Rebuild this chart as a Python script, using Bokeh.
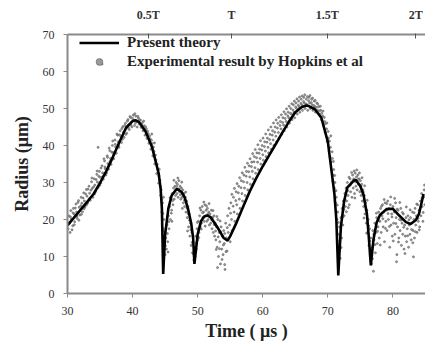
from bokeh.plotting import figure
from bokeh.models import LinearAxis, FixedTicker, Range1d, Legend, LegendItem
from bokeh.embed import file_html
from bokeh.resources import INLINE

# Present theory curve (time in microseconds, radius in micrometres)
theory_t = [30.0, 31.0, 32.0, 33.0, 34.0, 35.0, 36.0, 37.0, 38.0, 39.0, 40.0, 40.5, 41.0, 42.0, 43.0,
            44.0, 44.3, 44.5, 44.7, 45.0, 45.5, 46.0, 46.8, 47.5, 48.0, 48.5, 49.0, 49.3, 49.5, 50.0,
            50.5, 51.0, 51.5, 52.0, 53.0, 54.0, 54.6, 55.0, 56.0, 57.0, 58.0, 59.0, 60.0, 61.0, 62.0,
            63.0, 64.0, 65.0, 66.0, 66.7, 67.0, 68.0, 69.0, 70.0, 70.5, 71.0, 71.3, 71.6, 72.0, 72.5,
            73.0, 74.0, 74.3, 75.0, 75.5, 76.0, 76.3, 76.6, 77.0, 77.5, 78.0, 79.0, 80.0, 81.0, 82.0,
            82.7, 83.5, 84.0, 84.7]
theory_r = [18.4, 20.5, 22.6, 24.7, 26.9, 29.9, 33.2, 37.0, 41.0, 44.8, 46.6, 46.8, 46.3, 43.8, 39.5,
            32.5, 28.5, 23.0, 5.3, 16.0, 23.0, 26.5, 28.3, 27.5, 26.0, 23.0, 19.0, 15.0, 8.0, 16.0,
            19.5, 20.8, 21.1, 20.6, 18.0, 15.0, 14.3, 15.5, 19.3, 23.5, 27.6, 31.2, 34.4, 37.4, 40.4,
            43.5, 46.4, 49.0, 50.4, 50.8, 50.7, 49.8, 47.5, 41.0, 34.0, 27.0, 20.0, 4.9, 18.0, 25.0,
            28.7, 30.5, 30.7, 29.0, 26.5, 21.5, 15.0, 7.6, 14.5, 19.2, 21.2, 22.8, 22.9, 21.0, 19.3,
            18.8, 19.8, 21.5, 26.9]

exp_t_a = [30.1, 30.2, 30.3, 30.4, 30.5, 30.6, 30.8, 30.9, 31.0, 31.1, 31.3, 31.4, 31.5, 31.7, 31.8, 31.9,
           32.1, 32.2, 32.3, 32.5, 32.6, 32.7, 32.9, 33.0, 33.1, 33.3, 33.4, 33.5, 33.7, 33.8, 33.9, 34.1,
           34.2, 34.3, 34.5, 34.6, 34.7, 34.7, 34.9, 35.0, 35.1, 35.3, 35.3, 35.4, 35.5, 35.7, 35.8, 35.9,
           36.1, 36.2, 36.3, 36.5, 36.6, 36.7, 36.9, 37.0, 37.1, 37.3, 37.4, 37.5, 37.7, 37.8, 37.9, 38.1,
           38.2, 38.3, 38.5, 38.6, 38.7, 38.9, 39.0, 39.1, 39.3, 39.4, 39.5, 39.7, 39.8, 39.9, 40.1, 40.2,
           40.3, 40.5, 40.6, 40.7,
           40.9, 41.0, 41.2, 41.3, 41.5, 41.6, 41.8, 41.9, 42.1, 42.2, 42.4, 42.5, 42.7, 42.8, 43.0, 43.1,
           43.3, 43.4, 43.6, 43.7, 43.9, 44.0, 44.2, 44.3, 44.4, 44.5, 44.6, 44.7, 44.8, 44.9, 45.0, 45.1,
           45.2,
           45.3, 45.4, 45.5, 45.6, 45.7, 45.8, 45.9, 46.0, 46.1, 46.2, 46.3, 46.4, 46.5, 46.6, 46.7, 46.8,
           46.9, 47.0, 47.1, 47.2, 47.3, 47.4, 47.5, 47.6, 47.7, 47.8, 47.9, 48.0, 48.1, 48.2, 48.3, 48.4,
           48.5, 48.6, 48.7, 48.8, 48.9, 49.0, 49.1, 49.2, 49.3, 49.4, 49.5, 49.6,
           49.7, 49.8, 49.9, 50.0, 50.1, 50.2, 50.3, 50.4, 50.5, 50.6, 50.7, 50.8, 50.9, 51.0, 51.1, 51.2,
           51.3, 51.4, 51.5, 51.6, 51.7, 51.8, 51.9, 52.0, 52.1, 52.2, 52.3, 52.4, 52.5, 52.6, 52.7, 52.8,
           52.9, 53.0, 53.1, 53.2, 53.3, 53.4, 53.5, 53.6, 53.7, 53.8, 53.9, 54.0, 54.1, 54.2, 54.3, 54.4,
           54.5, 54.6, 54.7,
           54.8, 54.9, 55.0, 55.1, 55.2, 55.3, 55.5, 55.6, 55.7, 55.9, 56.0, 56.1, 56.3, 56.4, 56.5, 56.7,
           56.8, 56.9, 57.1, 57.2, 57.3, 57.5, 57.6, 57.7, 57.9, 58.0, 58.1, 58.3, 58.4, 58.5, 58.7, 58.8,
           58.9, 59.1, 59.2, 59.3, 59.5, 59.6, 59.7, 59.9, 60.0, 60.1, 60.3, 60.4, 60.5, 60.7, 60.8, 60.9,
           61.1, 61.2, 61.3, 61.5, 61.6, 61.7, 61.9, 62.0, 62.1, 62.3, 62.4, 62.5, 62.7, 62.8, 62.9, 63.1,
           63.2, 63.3, 63.5, 63.6, 63.7, 63.9, 64.0, 64.1, 64.3, 64.4, 64.5, 64.7, 64.8, 64.9, 65.1, 65.2,
           65.3,
           65.5, 65.6, 65.7, 65.9, 66.0, 66.1, 66.3, 66.4, 66.5, 66.7, 66.8, 66.9, 67.1, 67.2, 67.3, 67.5,
           67.6, 67.7, 67.9, 68.0, 68.1, 68.3, 68.4,
           68.6, 68.7, 68.9, 69.0, 69.2, 69.3, 69.5, 69.6, 69.8, 69.9, 70.1, 70.2, 70.4, 70.5, 70.7, 70.8,
           70.9, 71.0, 71.1, 71.2, 71.3, 71.4, 71.5, 71.6, 71.7, 71.8, 71.9,
           72.0, 72.1, 72.2, 72.3, 72.4, 72.5, 72.6, 72.7, 72.8, 72.9, 73.0, 73.1, 73.2, 73.3, 73.4, 73.5,
           73.6, 73.7, 73.8, 73.9, 74.0, 74.1, 74.2, 74.3, 74.4, 74.5, 74.6, 74.7, 74.8, 74.9, 75.0, 75.1,
           75.2, 75.3, 75.4, 75.5, 75.6, 75.7, 75.8, 75.9, 76.0, 76.1, 76.2, 76.3, 76.4, 76.5, 76.6, 76.7,
           76.8, 76.9, 77.0, 77.1, 77.2, 77.3, 77.4, 77.5, 77.6, 77.7, 77.8, 77.9, 78.0, 78.1, 78.2, 78.3,
           78.4, 78.5, 78.6, 78.7, 78.8, 78.9, 79.0, 79.1, 79.2, 79.3, 79.4, 79.5, 79.6, 79.7, 79.8, 79.9,
           80.0, 80.1, 80.2, 80.3, 80.4, 80.5, 80.6, 80.7, 80.8, 80.9, 81.0, 81.1, 81.2, 81.3, 81.4, 81.5,
           81.6, 81.7, 81.8, 81.9, 82.0, 82.1, 82.2, 82.3, 82.4, 82.5, 82.6, 82.7, 82.8, 82.9, 83.0, 83.1,
           83.2, 83.3, 83.4, 83.5, 83.6, 83.7, 83.8, 83.9, 84.0, 84.1, 84.2, 84.3, 84.4, 84.5, 84.6, 84.7,
           84.8, 84.9]
exp_r_a = [17.5, 21.0, 19.2, 16.5, 22.4, 20.1, 18.3, 23.0, 21.5, 19.4, 24.2, 22.0, 20.3, 25.1, 23.3, 21.2,
           26.0, 24.4, 22.1, 27.2, 25.0, 23.4, 28.1, 26.3, 24.5, 29.0, 27.1, 25.2, 30.2, 28.4, 26.0, 31.0,
           29.3, 27.5, 32.2, 30.1, 28.6, 39.5, 33.0, 31.4, 29.8, 62.0, 34.5, 32.6, 30.9, 35.8, 33.7, 32.0,
           37.2, 35.1, 33.6, 38.6, 36.5, 34.9, 40.0, 38.1, 36.4, 41.5, 39.6, 37.9, 42.8, 41.0, 39.5, 44.0,
           42.4, 40.8, 45.1, 43.6, 42.2, 46.0, 44.7, 43.3, 47.0, 45.6, 44.3, 47.6, 46.3, 45.0, 48.2, 46.8,
           45.4, 47.9, 46.5, 45.0,
           47.4, 45.8, 46.9, 44.9, 46.2, 44.0, 45.3, 42.8, 44.5, 41.9, 43.2, 40.6, 41.8, 39.0, 40.5, 37.2,
           38.4, 35.0, 36.1, 32.4, 33.5, 29.8, 30.6, 26.5, 28.0, 22.0, 24.5, 17.5, 20.0, 13.5, 10.5, 15.0,
           12.0,
           18.5, 14.0, 21.0, 17.5, 23.5, 20.0, 25.5, 22.5, 27.0, 24.0, 28.5, 25.5, 29.0, 26.5, 30.0, 27.0,
           29.5, 26.0, 30.5, 27.5, 29.0, 25.5, 28.5, 26.0, 28.0, 24.5, 27.0, 23.5, 26.0, 22.0, 25.0, 20.5,
           23.5, 18.0, 21.5, 15.5, 19.0, 13.0, 16.5, 11.0, 14.0, 9.0, 12.5, 10.0,
           15.5, 12.0, 17.5, 14.5, 19.5, 16.5, 21.0, 18.0, 22.5, 19.0, 23.5, 20.5, 22.0, 19.5, 24.0, 21.0,
           22.5, 19.5, 23.0, 20.0, 22.0, 18.5, 21.5, 19.0, 22.5, 17.5, 20.5, 16.5, 21.0, 15.5, 19.0, 14.5,
           18.0, 12.5, 20.0, 10.0, 16.5, 14.0, 8.0, 18.0, 12.0, 15.5, 10.5, 17.0, 13.5, 6.5, 19.0, 15.0,
           11.5, 21.0, 16.5,
           23.0, 18.5, 14.0, 24.5, 20.0, 17.0, 26.0, 22.0, 19.5, 27.5, 24.0, 21.5, 29.0, 25.5, 23.0, 30.5,
           27.0, 25.0, 32.0, 28.5, 26.5, 33.0, 30.0, 28.0, 34.5, 31.5, 29.5, 35.5, 33.0, 31.0, 37.0, 34.0,
           32.5, 38.0, 35.5, 33.5, 39.0, 36.5, 35.0, 40.0, 37.5, 36.0, 41.0, 38.5, 37.0, 42.0, 39.5, 38.0,
           43.0, 40.5, 39.0, 44.0, 41.5, 40.0, 45.0, 42.5, 41.0, 46.0, 43.5, 42.0, 46.5, 44.5, 43.0, 47.5,
           45.5, 44.0, 48.5, 46.5, 45.0, 49.0, 47.5, 46.0, 50.0, 48.5, 47.0, 51.0, 49.0, 47.5, 51.5, 50.0,
           48.5,
           52.0, 50.5, 49.0, 52.5, 51.0, 49.5, 53.0, 51.5, 50.0, 52.5, 51.0, 49.5, 53.0, 51.5, 50.0, 52.5,
           51.0, 49.5, 52.0, 50.5, 49.0, 51.5, 49.5,
           50.5, 48.5, 49.5, 47.0, 48.0, 45.5, 46.5, 43.5, 44.5, 41.0, 42.0, 38.5, 39.5, 35.5, 36.5, 32.0,
           33.5, 28.5, 30.0, 24.5, 26.0, 20.0, 22.0, 16.0, 12.5, 18.0, 9.5,
           20.5, 15.0, 23.0, 18.5, 25.0, 21.0, 27.0, 23.5, 28.5, 25.0, 30.0, 26.5, 29.0, 24.0, 31.0, 27.5,
           30.0, 26.0, 32.0, 28.5, 31.0, 27.0, 32.5, 29.0, 31.5, 28.0, 32.0, 29.5, 31.0, 27.5, 30.5, 26.5,
           29.5, 25.0, 28.0, 23.5, 26.5, 21.5, 24.5, 19.0, 22.5, 16.5, 20.0, 13.0, 17.5, 10.5, 15.0, 8.0,
           12.5, 17.0, 6.0, 14.5, 19.0, 11.0, 16.5, 20.5, 13.5, 18.0, 22.0, 15.0, 19.5, 23.0, 16.5, 21.0,
           24.0, 18.0, 22.0, 14.0, 24.5, 19.5, 22.5, 17.0, 25.0, 20.0, 23.0, 12.5, 24.0, 18.5, 21.5, 15.5,
           23.5, 19.0, 22.0, 16.0, 24.5, 20.5, 10.5, 18.0, 22.5, 15.0, 20.0, 17.0, 23.0, 13.0, 19.0, 16.0,
           21.5, 12.0, 18.5, 15.5, 20.5, 14.0, 17.5, 21.0, 12.5, 18.5, 16.0, 20.5, 14.5, 19.0, 22.0, 17.0,
           20.0, 15.0, 23.0, 18.5, 21.0, 16.5, 24.0, 19.5, 22.5, 18.0, 25.0, 21.0, 27.0, 23.5, 19.5, 26.0,
           28.0, 24.0]

# Experimental result, second set of read-off points
exp_t_b = [30.25, 30.45, 30.7, 30.85, 31.05, 31.2, 31.45, 31.6, 31.75, 32.05, 32.15, 32.4, 32.55, 32.8,
           32.95, 33.15, 33.35, 33.6, 33.75, 34.0, 34.15, 34.4, 34.55, 34.8, 34.95, 35.15, 35.35, 35.6,
           35.75, 36.0, 36.15, 36.4, 36.55, 36.8, 36.95, 37.15, 37.35, 37.6, 37.85, 38.0, 38.35, 38.45,
           38.8, 38.95, 39.2, 39.35, 39.6, 39.75, 40.0, 40.35, 40.45, 40.8, 41.05,
           41.4, 41.7, 42.0, 42.3, 42.6, 42.9, 43.2, 43.5, 43.8, 44.05, 44.25, 44.45, 44.65, 44.85, 45.05,
           43.35, 42.95, 44.1, 44.75,
           45.35, 45.55, 45.75, 45.95, 46.15, 46.35, 46.55, 46.75, 46.95, 47.15, 47.35, 47.55, 47.75,
           47.95, 48.15, 48.35, 48.55, 48.75, 48.95, 49.15, 49.35, 46.05, 47.65, 48.45, 45.45,
           49.75, 49.95, 50.15, 50.35, 50.55, 50.75, 50.95, 51.15, 51.35, 51.55, 51.75, 51.95, 52.15,
           52.35, 52.55, 52.75, 52.95, 53.15, 53.35, 53.55, 53.75, 53.95, 54.15, 54.35, 54.55, 54.15,
           53.45, 52.85, 53.05,
           55.05, 55.25, 55.45, 55.65, 55.85, 56.05, 56.25, 56.45, 56.65, 56.85, 57.05, 57.25, 57.45,
           57.65, 57.85, 58.05, 58.25, 58.45, 58.65, 58.85, 59.05, 59.25, 59.45, 59.65, 59.85, 60.05,
           60.25, 60.45, 60.65, 60.85, 61.05, 61.25, 61.45, 61.65, 61.85, 62.05, 62.25, 62.45, 62.65,
           62.85, 63.05, 63.25, 63.45, 63.65, 63.85, 64.05, 64.25, 64.45, 64.65, 64.85, 65.05,
           65.25, 65.45, 65.65, 65.85, 66.05, 66.25, 66.45, 66.65, 66.85, 67.05, 67.25, 67.45, 67.65,
           67.85, 68.05, 68.25,
           68.45, 68.65, 68.85, 69.05, 69.25, 69.45, 69.65, 69.85, 70.05, 70.25, 70.45, 70.65, 70.85,
           71.05, 71.25, 71.45, 71.65, 71.85, 70.35, 70.75,
           72.05, 72.25, 72.45, 72.65, 72.85, 73.05, 73.25, 73.45, 73.65, 73.85, 74.05, 74.25, 74.45,
           74.65, 74.85, 75.05, 75.25, 75.45, 75.65, 75.85, 76.05, 76.25, 76.45, 76.65, 74.15, 73.15,
           75.55, 75.95,
           76.85, 77.05, 77.25, 77.45, 77.65, 77.85, 78.05, 78.25, 78.45, 78.65, 78.85, 79.05, 79.25,
           79.45, 79.65, 79.85, 80.05, 80.25, 80.45, 80.65, 80.85, 81.05, 81.25, 81.45, 81.65, 81.85,
           82.05, 82.25, 82.45, 82.65, 82.85, 83.05, 83.25, 83.45, 83.65, 83.85, 84.05, 84.25, 84.45,
           84.65, 84.85, 80.55, 83.15]
exp_r_b = [18.9, 20.7, 17.2, 21.8, 18.6, 23.1, 20.9, 24.6, 19.8, 23.7, 21.4, 25.8, 22.9, 26.9,
           24.0, 28.2, 25.6, 27.9, 31.2, 28.8, 26.9, 30.8, 33.1, 31.7, 29.2, 33.9, 31.5, 36.4,
           34.2, 32.6, 36.8, 39.3, 35.7, 38.2, 41.2, 37.6, 40.3, 43.1, 39.9, 42.9, 44.6, 41.7,
           45.4, 43.0, 46.6, 44.8, 47.8, 45.5, 47.3, 48.6, 46.1, 47.9, 46.9,
           45.7, 46.6, 45.0, 43.9, 42.6, 41.4, 39.6, 37.4, 34.9, 31.8, 28.9, 25.4, 21.6, 16.8, 12.9,
           40.7, 43.1, 33.6, 26.0,
           16.2, 19.4, 25.9, 21.7, 25.1, 30.6, 27.8, 28.9, 31.2, 28.3, 26.7, 30.1, 26.9,
           25.2, 27.4, 23.1, 21.6, 19.8, 17.2, 13.8, 10.7, 19.5, 23.0, 16.9, 11.2,
           13.6, 19.2, 15.1, 23.1, 17.4, 21.8, 24.7, 18.2, 23.7, 21.4, 24.3, 20.6, 19.9,
           22.4, 18.6, 16.9, 20.8, 15.3, 12.1, 16.7, 9.2, 13.1, 7.8, 11.3, 17.8, 16.2,
           19.6, 11.9, 7.0,
           21.7, 26.8, 23.6, 28.4, 25.1, 29.7, 27.2, 31.3, 28.6, 32.6, 30.2, 34.1, 31.7,
           35.2, 32.9, 36.4, 34.3, 37.8, 35.6, 38.9, 36.7, 40.2, 37.9, 41.3, 38.8, 42.0,
           39.7, 43.1, 40.9, 44.2, 41.6, 45.0, 42.8, 46.1, 43.6, 46.9, 44.7, 47.6, 45.4,
           48.3, 46.2, 49.1, 47.3, 49.9, 48.0, 50.6, 48.7, 51.3, 49.6, 52.0, 50.4,
           52.6, 50.9, 53.1, 51.4, 53.4, 51.9, 53.7, 51.2, 53.2, 52.1, 53.5, 51.6, 52.8,
           50.8, 52.2, 50.3,
           51.2, 49.4, 50.6, 48.7, 49.3, 47.6, 45.9, 46.1, 43.8, 41.2, 42.6, 38.3, 35.7,
           31.9, 27.8, 23.9, 19.2, 14.3, 36.9, 30.4,
           12.4, 20.6, 22.7, 25.3, 22.1, 27.8, 31.4, 29.3, 32.7, 30.6, 33.1, 30.2, 33.4,
           30.8, 32.6, 28.9, 31.3, 27.4, 29.1, 22.6, 25.2, 18.3, 14.2, 12.1, 25.8, 23.2,
           20.4, 16.3,
           9.4, 16.0, 13.2, 21.7, 16.8, 19.7, 13.1, 23.6, 20.2, 25.4, 17.6, 24.3, 21.6,
           18.1, 26.1, 20.7, 14.2, 25.7, 18.9, 22.8, 13.9, 24.6, 19.8, 21.9, 17.9, 10.8,
           23.4, 15.6, 19.9, 22.6, 17.3, 13.7, 21.8, 16.7, 24.2, 20.3, 17.2, 23.3, 25.8,
           21.9, 29.3, 8.6, 9.9]

exp_t = exp_t_a + exp_t_b
exp_r = exp_r_a + exp_r_b

# Period marks on the top axis
period_pos = [42.4, 55.2, 69.9, 83.5]
period_labels = ["0.5T", "T", "1.5T", "2T"]

FONT = "Times New Roman"

p = figure(width=425, height=353, output_backend="svg", toolbar_location=None,
           x_range=Range1d(30, 85), y_range=Range1d(0, 70),
           min_border_left=67, min_border_right=0, min_border_top=34, min_border_bottom=60)
p.outline_line_color = None
p.xgrid.visible = False
p.ygrid.visible = False
p.background_fill_color = "white"

exp_r_ = p.scatter(exp_t, exp_r, size=2.1, marker="circle", fill_color="#9a9a9a",
                   line_color="#505050", line_width=0.5)
th = p.line(theory_t, theory_r, line_color="black", line_width=2.6)

for ax in (p.xaxis[0], p.yaxis[0]):
    ax.axis_line_color = "#8a8a8a"
    ax.axis_line_width = 2
    ax.major_tick_line_color = "#8a8a8a"
    ax.major_tick_out = 4
    ax.major_tick_in = 0
    ax.minor_tick_line_color = None
    ax.major_label_text_font = FONT
    ax.major_label_text_font_size = "12px"
    ax.major_label_text_color = "#333333"
    ax.axis_label_text_font = FONT
    ax.axis_label_text_font_size = "18px"
    ax.axis_label_text_font_style = "bold"
    ax.axis_label_text_color = "#222222"

p.xaxis[0].ticker = FixedTicker(ticks=[30, 40, 50, 60, 70, 80])
p.yaxis[0].ticker = FixedTicker(ticks=[0, 10, 20, 30, 40, 50, 60, 70])
p.xaxis[0].major_label_standoff = 9
p.yaxis[0].major_label_standoff = 9
p.xaxis[0].axis_label = "Time ( μs )"
p.yaxis[0].axis_label = "Radius (μm)"
p.xaxis[0].axis_label_standoff = 3
p.yaxis[0].axis_label_standoff = 8

top = LinearAxis(ticker=FixedTicker(ticks=period_pos),
                 major_label_overrides={v: l for v, l in zip(period_pos, period_labels)})
top.axis_line_color = "#8a8a8a"
top.axis_line_width = 2
top.major_tick_line_color = "#555555"
top.major_tick_in = 4
top.major_tick_out = 1
top.minor_tick_line_color = None
top.major_label_text_font = FONT
top.major_label_text_font_size = "12px"
top.major_label_text_font_style = "bold"
top.major_label_text_color = "#333333"
top.major_label_standoff = 12
p.add_layout(top, "above")

legend = Legend(items=[LegendItem(label="Present theory", renderers=[th]),
                       LegendItem(label="Experimental result by Hopkins et al", renderers=[exp_r_])],
                location=(12, 223), border_line_color=None, background_fill_alpha=0,
                glyph_width=40, glyph_height=17, label_height=17, spacing=2, padding=1, margin=0,
                label_standoff=8, label_text_font=FONT, label_text_font_size="15px",
                label_text_font_style="bold", label_text_color="#222222")
p.add_layout(legend)

open("out.html", "w").write(file_html(p, INLINE))
